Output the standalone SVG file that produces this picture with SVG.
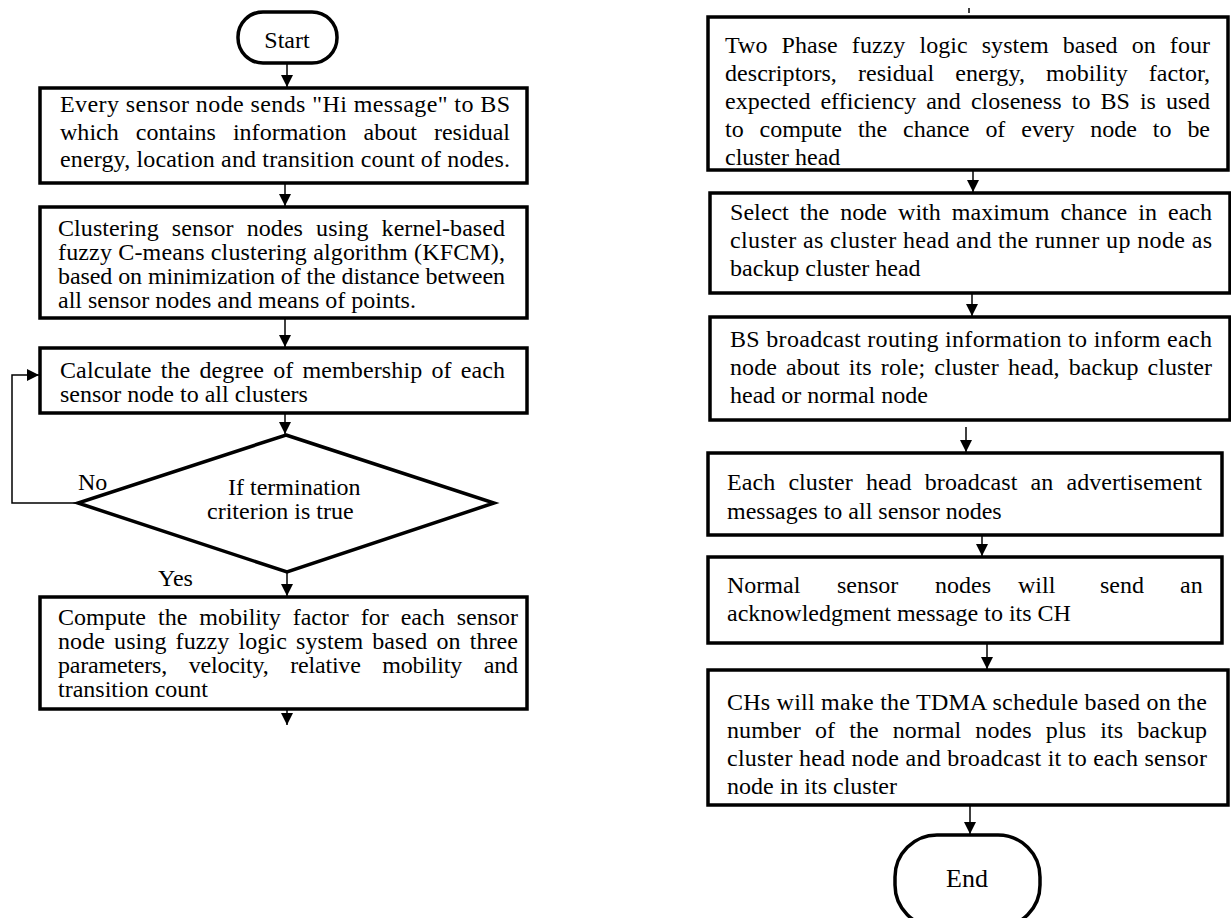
<svg xmlns="http://www.w3.org/2000/svg" width="1231" height="918" viewBox="0 0 1231 918">
<defs>
<marker id="ah" markerUnits="userSpaceOnUse" markerWidth="12" markerHeight="12" viewBox="0 0 10 10" refX="10" refY="5" orient="auto">
<path d="M0,0 L10,5 L0,10 z" fill="#000"/>
</marker>
<style>
.box{fill:#fff;stroke:#000;stroke-width:3.5}
.term{fill:#fff;stroke:#000;stroke-width:3.5}
.con{fill:none;stroke:#000;stroke-width:1.5}
text{font-family:"Liberation Serif","Times New Roman",serif;font-size:24px;fill:#000}
</style>
</defs>
<rect width="1231" height="918" fill="#fff"/>

<g id="connectors">
<line class="con" x1="287" y1="63" x2="287" y2="87" marker-end="url(#ah)"/>
<line class="con" x1="285" y1="183" x2="285" y2="206" marker-end="url(#ah)"/>
<line class="con" x1="285" y1="318" x2="285" y2="347" marker-end="url(#ah)"/>
<line class="con" x1="285" y1="413" x2="285" y2="434" marker-end="url(#ah)"/>
<polyline class="con" points="78,503 12,503 12,375 39,375" marker-end="url(#ah)"/>
<line class="con" x1="287" y1="572" x2="287" y2="596" marker-end="url(#ah)"/>
<line class="con" x1="287" y1="709" x2="287" y2="725" marker-end="url(#ah)"/>
<line class="con" x1="969" y1="8" x2="969" y2="13"/>
<line class="con" x1="973" y1="170" x2="973" y2="192" marker-end="url(#ah)"/>
<line class="con" x1="972" y1="293" x2="972" y2="316" marker-end="url(#ah)"/>
<line class="con" x1="966" y1="427" x2="966" y2="452" marker-end="url(#ah)"/>
<line class="con" x1="982" y1="535" x2="982" y2="556" marker-end="url(#ah)"/>
<line class="con" x1="987" y1="643" x2="987" y2="669" marker-end="url(#ah)"/>
<line class="con" x1="970" y1="805" x2="970" y2="834" marker-end="url(#ah)"/>
</g>

<g id="start">
<rect class="term" x="238" y="12" width="99" height="51" rx="25" ry="25"/>
<text x="287" y="48" text-anchor="middle">Start</text>
</g>

<g id="n1">
<rect class="box" x="40" y="88" width="487" height="95"/>
<text x="60" y="112" textLength="450" lengthAdjust="spacing">Every sensor node sends "Hi message" to BS</text>
<text x="60" y="140" textLength="450" lengthAdjust="spacing" word-spacing="11">which contains information about residual</text>
<text x="60" y="167" textLength="450" lengthAdjust="spacing">energy, location and transition count of nodes.</text>
</g>

<g id="n2">
<rect class="box" x="40" y="207" width="487" height="111"/>
<text x="58" y="236" textLength="447" lengthAdjust="spacing" word-spacing="7">Clustering sensor nodes using kernel-based</text>
<text x="58" y="260" textLength="447" lengthAdjust="spacing">fuzzy C-means clustering algorithm (KFCM),</text>
<text x="58" y="284" textLength="447" lengthAdjust="spacing">based on minimization of the distance between</text>
<text x="58" y="308">all sensor nodes and means of points.</text>
</g>

<g id="n3">
<rect class="box" x="40" y="348" width="487" height="65"/>
<text x="60" y="378" textLength="445" lengthAdjust="spacing" word-spacing="3">Calculate the degree of membership of each</text>
<text x="60" y="402">sensor node to all clusters</text>
</g>

<g id="decision">
<polygon class="box" points="286,435 494,503 287,572 78,503"/>
<text x="228" y="495">If termination</text>
<text x="207" y="519">criterion is true</text>
</g>

<g id="labels">
<text x="78" y="490">No</text>
<text x="158" y="586">Yes</text>
</g>

<g id="n4">
<rect class="box" x="40" y="597" width="487" height="112"/>
<text x="58" y="625" textLength="460" lengthAdjust="spacing" word-spacing="6">Compute the mobility factor for each sensor</text>
<text x="58" y="649" textLength="460" lengthAdjust="spacing" word-spacing="3">node using fuzzy logic system based on three</text>
<text x="58" y="673" textLength="460" lengthAdjust="spacing" word-spacing="16">parameters, velocity, relative mobility and</text>
<text x="58" y="697">transition count</text>
</g>

<g id="r1">
<rect class="box" x="708" y="17" width="520" height="153"/>
<text x="725" y="53" textLength="485" lengthAdjust="spacing" word-spacing="8">Two Phase fuzzy logic system based on four</text>
<text x="725" y="81" textLength="485" lengthAdjust="spacing" word-spacing="15">descriptors, residual energy, mobility factor,</text>
<text x="725" y="109" textLength="485" lengthAdjust="spacing" word-spacing="4">expected efficiency and closeness to BS is used</text>
<text x="725" y="137" textLength="485" lengthAdjust="spacing" word-spacing="10">to compute the chance of every node to be</text>
<text x="725" y="165">cluster head</text>
</g>

<g id="r2">
<rect class="box" x="710" y="193" width="520" height="100"/>
<text x="730" y="220" textLength="482" lengthAdjust="spacing" word-spacing="5">Select the node with maximum chance in each</text>
<text x="730" y="248" textLength="482" lengthAdjust="spacing">cluster as cluster head and the runner up node as</text>
<text x="730" y="276">backup cluster head</text>
</g>

<g id="r3">
<rect class="box" x="710" y="317" width="520" height="103"/>
<text x="730" y="347" textLength="482" lengthAdjust="spacing">BS broadcast routing information to inform each</text>
<text x="730" y="375" textLength="482" lengthAdjust="spacing" word-spacing="3">node about its role; cluster head, backup cluster</text>
<text x="730" y="403">head or normal node</text>
</g>

<g id="r4">
<rect class="box" x="708" y="453" width="514" height="82"/>
<text x="727" y="490" textLength="475" lengthAdjust="spacing" word-spacing="7">Each cluster head broadcast an advertisement</text>
<text x="727" y="519">messages to all sensor nodes</text>
</g>

<g id="r5">
<rect class="box" x="708" y="557" width="514" height="86"/>
<text y="593"><tspan x="727">Normal</tspan><tspan x="837">sensor</tspan><tspan x="935">nodes</tspan><tspan x="1018">will</tspan><tspan x="1100">send</tspan><tspan x="1180">an</tspan></text>
<text x="727" y="621">acknowledgment message to its CH</text>
</g>

<g id="r6">
<rect class="box" x="708" y="670" width="520" height="135"/>
<text x="727" y="710" textLength="480" lengthAdjust="spacing">CHs will make the TDMA schedule based on the</text>
<text x="727" y="738" textLength="480" lengthAdjust="spacing" word-spacing="8">number of the normal nodes plus its backup</text>
<text x="727" y="766" textLength="480" lengthAdjust="spacing">cluster head node and broadcast it to each sensor</text>
<text x="727" y="794">node in its cluster</text>
</g>

<g id="end">
<rect class="term" x="895" y="835" width="145" height="92" rx="42" ry="42"/>
<text x="967" y="887" text-anchor="middle" style="font-size:26px">End</text>
</g>
</svg>
